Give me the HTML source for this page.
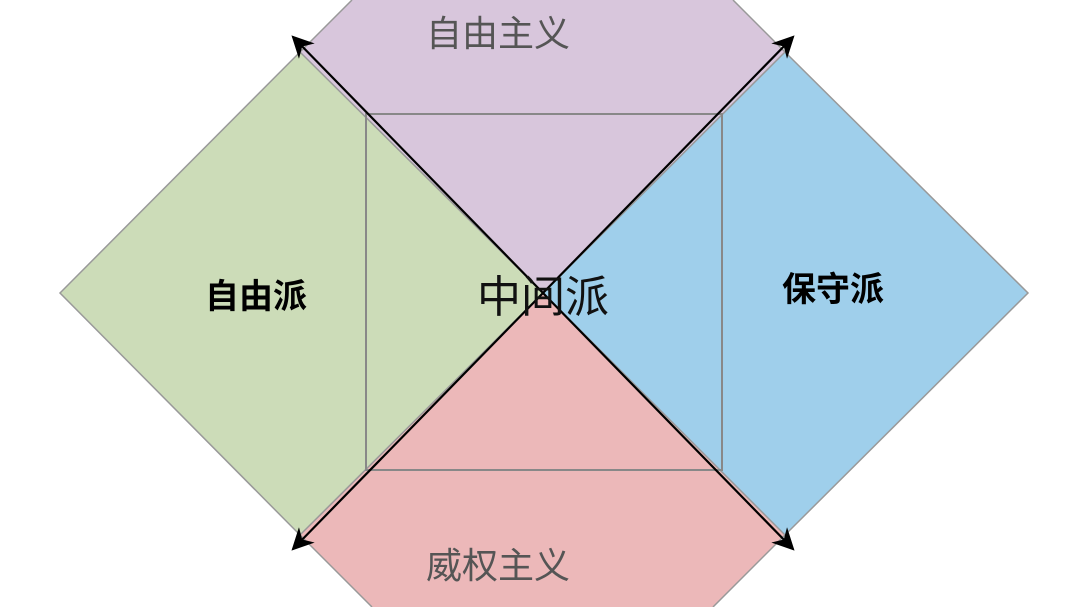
<!DOCTYPE html>
<html><head><meta charset="utf-8"><style>
html,body{margin:0;padding:0;background:#fff;width:1080px;height:607px;overflow:hidden}
svg{display:block}
text{font-family:"Liberation Sans","Noto Sans CJK SC",sans-serif}
</style></head><body>
<svg width="1080" height="607" viewBox="0 0 1080 607">
<defs><marker id="ah" viewBox="0 0 10 10" refX="9" refY="5" markerWidth="10" markerHeight="10" orient="auto-start-reverse"><path d="M0,0 L10,5 L0,10 L3,5 z" fill="#000"/></marker></defs>
<polygon points="300,52 352,0 733,0 785,52 543,293" fill="#d8c6dc"/>
<path d="M300,52 L352,0 M733,0 L785,52" stroke="#999" stroke-width="1.5" fill="none"/>
<polygon points="300,535 543,293 785,535 713,607 372,607" fill="#ecb8b9"/>
<path d="M300,535 L372,607 M785,535 L713,607" stroke="#999" stroke-width="1.5" fill="none"/>
<polygon points="60,293 300,52 543,293 300,535" fill="#ccdcb8" stroke="#999" stroke-width="1.5"/>
<polygon points="543,293 785,52 1028,293 785,535" fill="#9fcfeb" stroke="#999" stroke-width="1.5"/>
<rect x="366" y="114" width="356" height="356" fill="none" stroke="#888" stroke-width="2"/>
<line x1="293" y1="37" x2="793" y2="549" stroke="#000" stroke-width="2.2" marker-start="url(#ah)" marker-end="url(#ah)"/>
<line x1="793" y1="37" x2="293" y2="549" stroke="#000" stroke-width="2.2" marker-start="url(#ah)" marker-end="url(#ah)"/>
<text x="498" y="46" font-size="36" fill="#555" text-anchor="middle">自由主义</text>
<text x="498" y="578" font-size="36" fill="#555" text-anchor="middle">威权主义</text>
<text x="256" y="308" font-size="34" font-weight="bold" fill="#000" text-anchor="middle">自由派</text>
<text x="833" y="301" font-size="34" font-weight="bold" fill="#000" text-anchor="middle">保守派</text>
<text x="543" y="312" font-size="44" fill="#111" text-anchor="middle">中间派</text>
</svg>
</body></html>
